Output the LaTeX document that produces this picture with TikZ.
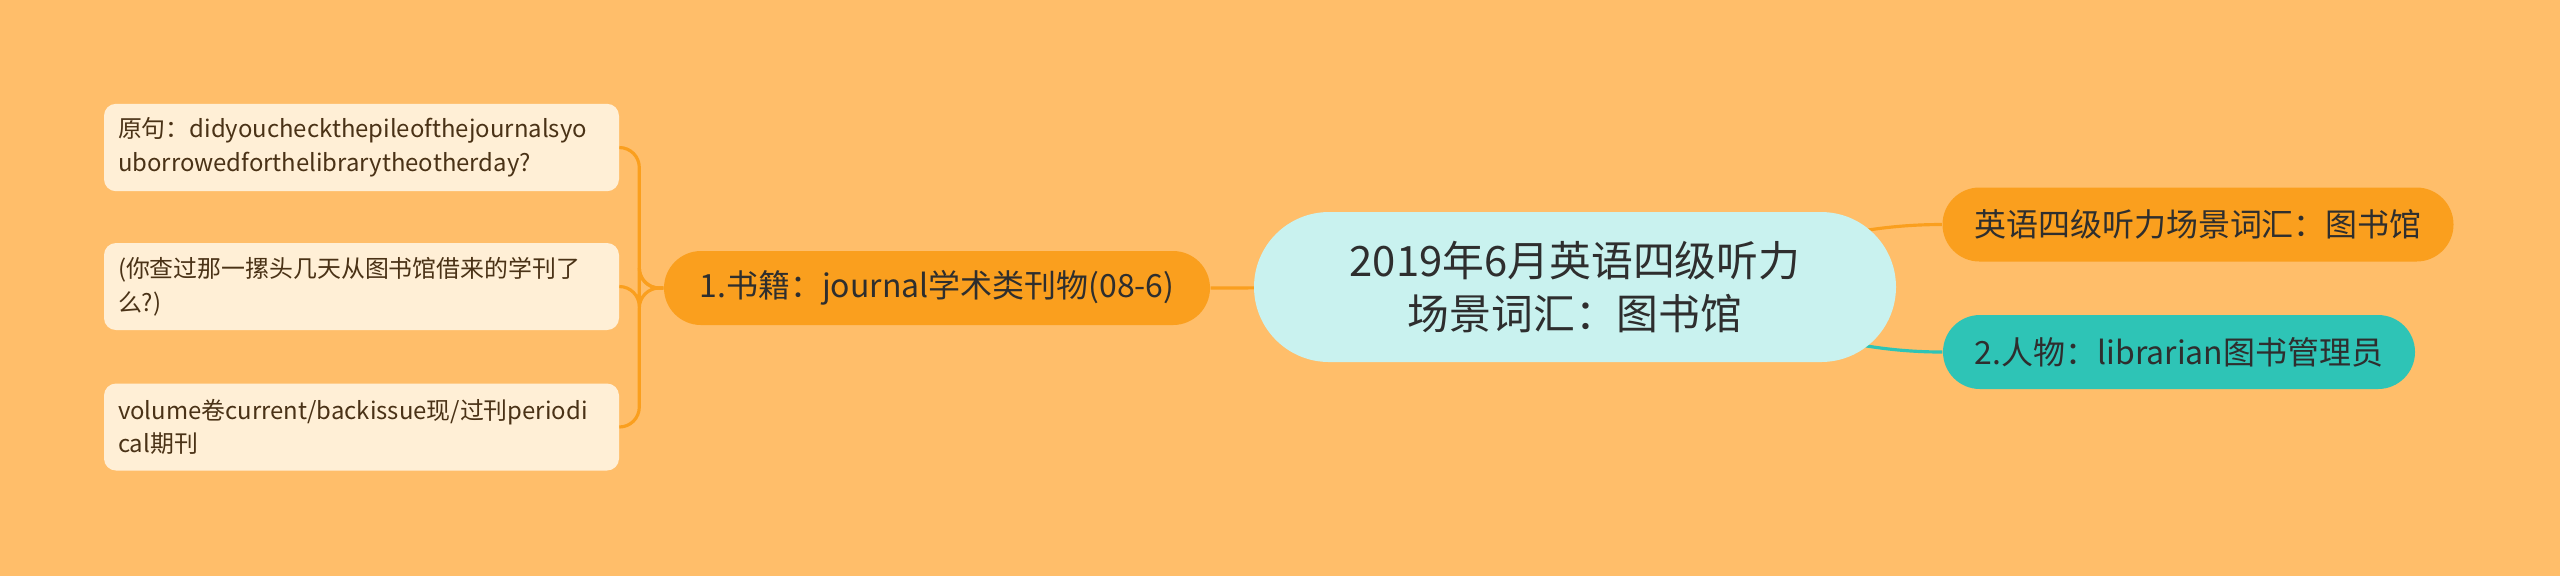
\documentclass[tikz,border=0pt]{standalone}
\usepackage{fontspec}
\setmainfont{Noto Sans CJK SC}
\usetikzlibrary{backgrounds}

\definecolor{bgorange}{HTML}{FFBE6A}
\definecolor{branchorange}{HTML}{FA9F1E}
\definecolor{branchteal}{HTML}{2EC4B6}
\definecolor{rootcyan}{HTML}{C9F2EF}
\definecolor{leafcream}{HTML}{FFEFD6}
\definecolor{darktext}{HTML}{2E2E2E}
\definecolor{leaftext}{HTML}{4A3216}

\tikzset{
  rootbox/.style={fill=rootcyan, rounded corners=0.75cm, minimum width=6.42cm,
    minimum height=1.5cm, align=center, text=darktext,
    font=\fontsize{11.9pt}{15.3pt}\selectfont},
  branchbox/.style={rounded corners=0.37cm, minimum height=0.74cm, inner sep=0pt,
    text=darktext, font=\fontsize{9.1pt}{11pt}\selectfont},
  leafbox/.style={fill=leafcream, rounded corners=0.12cm, minimum width=5.15cm,
    minimum height=0.87cm, text width=4.87cm, inner sep=0.14cm, align=left,
    text=leaftext, font=\fontsize{6.8pt}{9.6pt}\selectfont},
  orangeline/.style={draw=branchorange, line width=0.9pt},
  tealline/.style={draw=branchteal, line width=0.9pt}
}

\begin{document}
\begin{tikzpicture}
    \useasboundingbox (0,0) rectangle (25.6,-5.76);

    %中心
    \node[rootbox] (root) at (15.75,-2.87) {2019年6月英语四级听力\\场景词汇：图书馆};

    %右侧
    \node[branchbox, fill=branchorange, minimum width=5.11cm] (title) at (21.98,-2.245)
        {英语四级听力场景词汇：图书馆};
    \node[branchbox, fill=branchteal, minimum width=4.72cm] (people) at (21.79,-3.52)
        {2.人物：librarian图书管理员};

    %左侧
    \node[branchbox, fill=branchorange, minimum width=5.46cm] (books) at (9.37,-2.88)
        {1.书籍：journal学术类刊物(08-6)};

    \node[leafbox] (orig) at (3.615,-1.475)
        {原句：didyoucheckthepileofthejournalsyo\\uborrowedforthelibrarytheotherday?};
    \node[leafbox] (trans) at (3.615,-2.865)
        {(你查过那一摞头几天从图书馆借来的学刊了\\么?)};
    \node[leafbox] (vocab) at (3.615,-4.27)
        {volume卷current/backissue现/过刊periodi\\cal期刊};

    %连线
    \begin{pgfonlayer}{background}
        \fill[bgorange] (0,0) rectangle (25.6,-5.76);
        \draw[orangeline] (root.center) -- (books.east);
        \draw[orangeline] (root.center) to[out=0,in=180] (title.west);
        \draw[tealline] (root.center) to[out=0,in=180] (people.west);
        \foreach \leaf in {orig,trans,vocab}
            \draw[orangeline, rounded corners=0.2cm] (books.west) -- ++(-0.24,0) |- (\leaf.east);
    \end{pgfonlayer}
\end{tikzpicture}
\end{document}
